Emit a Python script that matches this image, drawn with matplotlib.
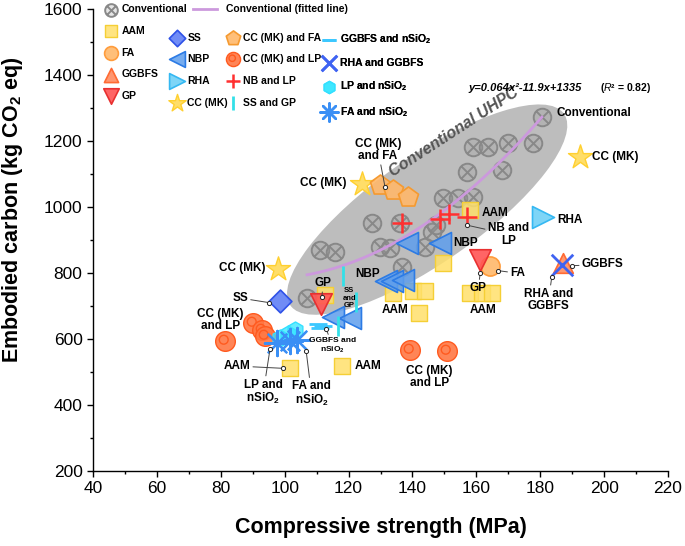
import numpy as np
import matplotlib
matplotlib.use("Agg")
import matplotlib.pyplot as plt
from matplotlib.path import Path
from matplotlib.patches import Ellipse
from matplotlib.transforms import Affine2D
from matplotlib.ticker import MultipleLocator

plt.rcParams['font.family'] = ['Liberation Sans', 'DejaVu Sans']
plt.rcParams['mathtext.fontset'] = 'custom'
plt.rcParams['mathtext.rm'] = 'Liberation Sans'
plt.rcParams['mathtext.it'] = 'Liberation Sans:italic'
plt.rcParams['mathtext.bf'] = 'Liberation Sans:bold'

# --- values: compressive strength (MPa), embodied carbon (kg CO2 eq)
conv_x = [106.9, 111.1, 115.8, 129.9, 133.0, 136.6, 127.3, 136.1, 144.0, 146.0, 147.5,
          149.7, 154.4, 159.1, 157.0, 167.9, 159.1, 163.8, 170.0, 177.8, 180.5]
conv_y = [724, 870, 865, 880, 875, 819, 950, 950, 880, 925, 945,
          1026, 1026, 1031, 1106, 1111, 1181, 1181, 1193, 1193, 1272]

fit_coef = [0.064, -11.9, 1335]   # y = 0.064x^2 - 11.9x + 1335
fit_range = [107.0, 180.5]

aam_x = [158.0, 149.7, 134.0, 140.3, 144.0, 141.9, 158.0, 161.7, 164.8, 112.6, 101.7, 117.8]
aam_y = [990, 830, 739, 744, 744, 679, 739, 739, 739, 734, 512, 519]
fa_x, fa_y = [164.3], [820]
ggbfs_x, ggbfs_y = [187.2], [830]
gp_x, gp_y = [161.2, 111.3], [839, 707]
ss_x, ss_y = [98.5], [714]
nbp_x = [138.2, 148.6, 131.6, 133.7, 137.1, 115.0, 120.5]
nbp_y = [890, 890, 776, 776, 779, 668, 663]
rha_x, rha_y = [181.0], [970]
ccmk_x, ccmk_y = [124.1, 192.3, 98.0], [1071, 1151, 812]
ccmk_fa_x, ccmk_fa_y = [129.9, 134.0, 138.7], [1066, 1051, 1031]
ccmk_lp_x = [81.3, 90.2, 92.8, 93.9, 139.2, 150.7]
ccmk_lp_y = [593, 648, 628, 608, 568, 563]
nb_lp_x, nb_lp_y = [136.6, 148.6, 151.3, 157.0], [950, 965, 980, 970]
ss_gp_x, ss_gp_y = [118.3, 122.2, 116.8], [790, 712, 640]
ggbfs_ns_x, ggbfs_ns_y = [110.5, 112.0, 111.0], [645, 640, 634]
rha_ggbfs_x, rha_ggbfs_y = [186.7], [824]
lp_ns_x, lp_ns_y = [98.5, 101.1, 103.2], [602, 616, 626]
fa_ns_x, fa_ns_y = [97.5, 101.7, 103.8], [588, 593, 598]

# custom markers: circle with cross, circle with inner ring
_line = lambda a, b: Path([a, b], [Path.MOVETO, Path.LINETO])
conv_marker = Path.make_compound_path(Path.unit_circle(),
                                      _line((-0.7, -0.7), (0.7, 0.7)),
                                      _line((-0.7, 0.7), (0.7, -0.7)))
_c = Path.unit_circle()
ring_marker = Path.make_compound_path(_c, Path(_c.vertices * 0.45 + [-0.18, 0.18], _c.codes))

fig = plt.figure(figsize=(6.85, 5.46), dpi=100)
ax = fig.add_axes([0.1358, 0.1374, 0.8394, 0.8462])
xmin, xmax, ymin, ymax = 40, 220, 200, 1600
ax.set_xlim(xmin, xmax)
ax.set_ylim(ymin, ymax)

# gray "Conventional UHPC" zone, shaped in pixel units then mapped to data
pos = ax.get_position()
sx = pos.width * fig.get_figwidth() * fig.dpi / (xmax - xmin)
sy = pos.height * fig.get_figheight() * fig.dpi / (ymax - ymin)
zone = Ellipse((0, 0), 334, 106, angle=35, facecolor='#bdbdbd', edgecolor='none',
               transform=Affine2D().scale(1 / sx, 1 / sy).translate(144.6, 992) + ax.transData,
               zorder=0.5)
ax.add_patch(zone)

h = {}
h['conv'] = ax.scatter(conv_x, conv_y, marker=conv_marker, s=160, facecolors=(0.6, 0.6, 0.6, 0.25),
                       edgecolors='#888888', linewidths=1.4, zorder=2)
xf = np.linspace(fit_range[0], fit_range[1], 100)
h['fit'], = ax.plot(xf, np.polyval(fit_coef, xf), color='#cc99dd', lw=2, zorder=3)

h['aam'] = ax.scatter(aam_x, aam_y, marker='s', s=125, facecolors=(1.0, 0.88, 0.42, 0.85),
                      edgecolors='#f5cf35', linewidths=1.0, zorder=4)
h['fa'] = ax.scatter(fa_x, fa_y, marker='o', s=190, facecolors=(1.0, 0.72, 0.42, 0.9),
                     edgecolors='#ff9c3c', linewidths=1.2, zorder=4)
h['ggbfs'] = ax.scatter(ggbfs_x, ggbfs_y, marker='^', s=200, facecolors=(1.0, 0.55, 0.38, 0.9),
                        edgecolors='#ff6a33', linewidths=1.2, zorder=4)
h['gp'] = ax.scatter(gp_x, gp_y, marker='v', s=240, facecolors=(1.0, 0.33, 0.33, 0.9),
                     edgecolors='#e83030', linewidths=1.2, zorder=5)
h['ss'] = ax.scatter(ss_x, ss_y, marker='D', s=135, facecolors=(0.38, 0.5, 0.96, 0.9),
                     edgecolors='#2f52e8', linewidths=1.2, zorder=4)
h['nbp'] = ax.scatter(nbp_x, nbp_y, marker='<', s=250, facecolors=(0.37, 0.62, 0.93, 0.85),
                      edgecolors='#2c7be5', linewidths=1.2, zorder=4)
h['rha'] = ax.scatter(rha_x, rha_y, marker='>', s=250, facecolors=(0.44, 0.82, 0.97, 0.9),
                      edgecolors='#35b8f2', linewidths=1.2, zorder=4)
h['ccmk'] = ax.scatter(ccmk_x, ccmk_y, marker='*', s=330, facecolors=(1.0, 0.86, 0.35, 0.9),
                       edgecolors='#ffd030', linewidths=1.0, zorder=4)
h['ccmk_fa'] = ax.scatter(ccmk_fa_x, ccmk_fa_y, marker='p', s=230, facecolors=(1.0, 0.72, 0.42, 0.9),
                          edgecolors='#f59a30', linewidths=1.2, zorder=4)
h['ccmk_lp'] = ax.scatter(ccmk_lp_x, ccmk_lp_y, marker=ring_marker, s=200, facecolors=(1.0, 0.47, 0.27, 0.9),
                          edgecolors='#ff5a1f', linewidths=1.0, zorder=4)
h['nb_lp'] = ax.scatter(nb_lp_x, nb_lp_y, marker='+', s=190, color='#ff3030', linewidths=1.8, zorder=6)
h['ss_gp'] = ax.scatter(ss_gp_x, ss_gp_y, marker='|', s=220, color='#33e0e8', linewidths=2, zorder=6)
h['ggbfs_ns'] = ax.scatter(ggbfs_ns_x, ggbfs_ns_y, marker='_', s=170, color='#3cc8ff', linewidths=2, zorder=6)
h['rha_ggbfs'] = ax.scatter(rha_ggbfs_x, rha_ggbfs_y, marker='x', s=240, color='#3f63f2', linewidths=2, zorder=6)
h['lp_ns'] = ax.scatter(lp_ns_x, lp_ns_y, marker='h', s=150, facecolors=(0.2, 0.9, 1.0, 0.75),
                        edgecolors='#33e0ff', linewidths=1.0, zorder=4)
h['fa_ns'] = ax.scatter(fa_ns_x, fa_ns_y, marker=(8, 2, 0), s=330, color='#3a8ff5', linewidths=1.6, zorder=5)

# --- legend, built as separate columns to match the layout
leg_prop = {'weight': 'bold', 'size': 7.5}


def add_legend(keys, labels, x, top, **kw):
    opts = dict(loc='upper left', bbox_to_anchor=(x, top), frameon=False, borderpad=0,
                borderaxespad=0, prop=leg_prop, handlelength=1.2, handletextpad=0.4,
                labelspacing=1.12, markerscale=0.72)
    opts.update(kw)
    lg = ax.legend([h[k] for k in keys], labels, **opts)
    ax.add_artist(lg)


add_legend(['conv', 'aam', 'fa', 'ggbfs', 'gp'], ['Conventional', 'AAM', 'FA', 'GGBFS', 'GP'], 0.0204, 1.010)
add_legend(['fit'], ['Conventional (fitted line)'], 0.174, 1.010, handlelength=2.3, handletextpad=0.9)
add_legend(['ss', 'nbp', 'rha', 'ccmk'], ['SS', 'NBP', 'RHA', 'CC (MK)'], 0.1352, 0.949)
add_legend(['ccmk_fa', 'ccmk_lp', 'nb_lp', 'ss_gp'],
           ['CC (MK) and FA', 'CC (MK) and LP', 'NB and LP', 'SS and GP'], 0.2326, 0.949)
add_legend(['ggbfs_ns', 'rha_ggbfs', 'lp_ns', 'fa_ns'],
           [r'GGBFS and nSiO$_\mathbf{2}$', 'RHA and GGBFS', r'LP and nSiO$_\mathbf{2}$',
            r'FA and nSiO$_\mathbf{2}$'], 0.400, 0.949)


# --- point labels
def note(txt, xy_text, xy_dot=None, ha='center', size=8.5):
    kw = dict(ha=ha, va='center', fontsize=size, fontweight='bold', linespacing=1.05, zorder=8)
    if xy_dot is None:
        ax.text(xy_text[0], xy_text[1], txt, **kw)
    else:
        ax.annotate(txt, xy=xy_dot, xytext=xy_text,
                    arrowprops=dict(arrowstyle='-', color='#444444', lw=0.7, shrinkA=0, shrinkB=0), **kw)
        ax.plot(xy_dot[0], xy_dot[1], 'o', ms=3, mfc='white', mec='#222222', mew=0.7, zorder=9)


note('Conventional', (185.0, 1285), ha='left')
note('CC (MK)', (196.2, 1151), ha='left')
note('CC (MK)', (119.5, 1073), ha='right')
note('CC (MK)\nand FA', (129.2, 1173), (131.4, 1061))
note('CC (MK)', (93.9, 815), ha='right')
note('SS', (88.5, 724), (95.2, 710), ha='right')
note('CC (MK)\nand LP', (79.8, 657))
note('GP', (112.1, 769), (111.6, 726))
note('NBP', (152.8, 890), ha='left')
note('NBP', (129.9, 796), ha='right')
note('AAM', (161.7, 981), ha='left')
note('NB and\nLP', (170.0, 917), (157.0, 945))
note('AAM', (134.6, 688))
note('RHA', (185.2, 961), ha='left')
note('FA', (170.6, 799), (166.9, 807), ha='left')
note('GP', (160.6, 754), (161.2, 799))
note('AAM', (162.1, 688))
note('GGBFS', (193.0, 826), (189.9, 822), ha='left')
note('RHA and\nGGBFS', (182.6, 718), (183.6, 787))
note('CC (MK)\nand LP', (145.2, 485))
note('AAM', (89.2, 518), (99.6, 511), ha='right')
note('LP and\nnSiO$_\\mathbf{2}$', (93.3, 438), (95.4, 569))
note('FA and\nnSiO$_\\mathbf{2}$', (108.4, 433), (106.7, 565))
note('AAM', (122.0, 518), ha='left')
note('SS\nand\nGP', (120.2, 724), size=5.5)
note('GGBFS and\nnSiO$_\\mathbf{2}$', (115.0, 579), (113.0, 630), size=6)

ax.text(153, 1226, 'Conventional UHPC', rotation=33, fontsize=11.5, fontweight='bold',
        style='italic', color='#555555', ha='center', va='center', zorder=1)
ax.text(157.4, 1361, 'y=0.064x²-11.9x+1335', fontsize=8, fontweight='bold', style='italic',
        ha='left', va='center')
ax.text(198.7, 1361, r'($\mathit{R}$² = 0.82)', fontsize=7.5, fontweight='bold', ha='left', va='center')

# --- axes styling
ax.set_xticks(np.arange(40, 221, 20))
ax.set_yticks(np.arange(200, 1601, 200))
ax.xaxis.set_minor_locator(MultipleLocator(10))
ax.yaxis.set_minor_locator(MultipleLocator(100))
ax.tick_params(which='major', direction='out', length=4.5, width=1, labelsize=12.5, pad=3)
ax.tick_params(which='minor', direction='out', length=2.5, width=1)
for side in ['top', 'right']:
    ax.spines[side].set_visible(False)
for side in ['left', 'bottom']:
    ax.spines[side].set_linewidth(1)

ax.set_xlabel('Compressive strength (MPa)', fontsize=15.5, fontweight='bold')
ax.set_ylabel(r'Embodied carbon (kg CO$_\mathbf{2}$ eq)', fontsize=15.5, fontweight='bold')
ax.xaxis.set_label_coords(0.5, -0.1)
ax.yaxis.set_label_coords(-0.118, 0.565)

fig.savefig('out.png', dpi=100)
